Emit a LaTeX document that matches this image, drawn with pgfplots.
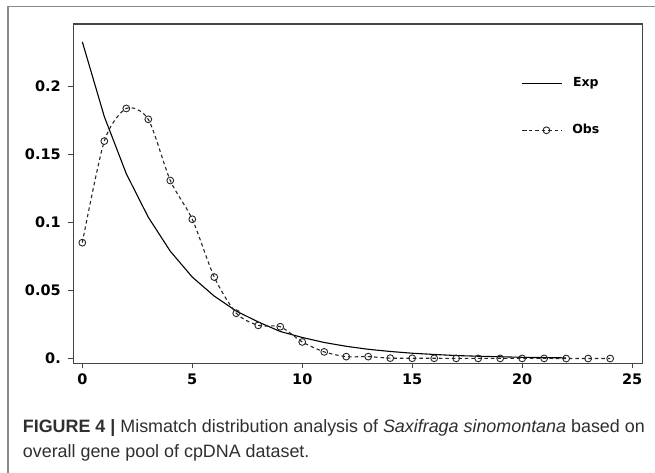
\documentclass[border=0pt]{standalone}
\usepackage{fontspec}
\setmainfont{Liberation Sans}
\newfontfamily\tickfont{DejaVu Sans}
\usepackage{pgfplots}
\pgfplotsset{compat=1.18}

\definecolor{framegray}{HTML}{8A8A8A}
\definecolor{boxgray}{HTML}{444444}
\definecolor{captext}{HTML}{2F2F2F}

\begin{document}
\begin{tikzpicture}[x=1pt,y=1pt]
  \useasboundingbox (0,0) rectangle (655,473);
  % outer figure frame (cut off on the right and bottom)
  \draw[framegray, line width=1.3pt] (8,-5) -- (8,466.3) -- (660,466.3);

  \begin{axis}[
      at={(73.3pt,109.7pt)}, anchor=south west,
      scale only axis,
      width=569.4pt, height=339.3pt,
      xmin=-0.41, xmax=25.48,
      ymin=-0.0034, ymax=0.2461,
      xtick={0,5,10,15,20,25},
      ytick={0,0.05,0.1,0.15,0.2},
      yticklabels={0.,0.05,0.1,0.15,0.2},
      xticklabels={0,5,10,15,20,25},
      tick pos=left,
      tick align=outside,
      major tick length=5pt,
      axis line style={boxgray, line width=1.3pt},
      every tick/.style={boxgray, line width=1pt},
      ticklabel style={font=\tickfont\bfseries\fontsize{14.5}{16}\selectfont, text=black},
      yticklabel style={xshift=-4pt},
      xticklabel style={yshift=-2pt},
      legend style={draw=none, fill=none, at={(0.7875,0.756)}, anchor=west,
        inner sep=0pt, row sep=35pt,
        font=\tickfont\bfseries\fontsize{12.5}{14}\selectfont,
        nodes={inner sep=0pt, text height=9pt, text depth=3pt},
        /tikz/every odd column/.append style={column sep=9.3pt}},
      legend image code/.code={%
        \draw[#1, mark repeat=2, mark phase=2] plot coordinates {(0pt,0pt) (24pt,0pt) (40pt,0pt)};},
    ]
    % expected (exponential) distribution
    \addplot[black, line width=1.1pt] coordinates {
      (0,0.233) (1,0.178) (2,0.136) (3,0.104) (4,0.079) (5,0.060)
      (6,0.046) (7,0.035) (8,0.027) (9,0.020) (10,0.0156) (11,0.0119)
      (12,0.0091) (13,0.0069) (14,0.0053) (15,0.0040) (16,0.0031)
      (17,0.0023) (18,0.0018) (19,0.0014) (20,0.0010) (21,0.0008) (22,0.0006)
    };
    \addlegendentry{Exp}

    % observed
    \addplot[black!85, line width=1.1pt, dash pattern=on 3.5pt off 3pt,
      smooth, tension=0.45,
      mark=o, mark size=3.4pt, mark options={solid, line width=0.9pt}] coordinates {
      (0,0.0853) (1,0.160) (2,0.184) (3,0.176) (4,0.131) (5,0.1025)
      (6,0.060) (7,0.0334) (8,0.0245) (9,0.0235) (10,0.0123) (11,0.0050)
      (12,0.0015) (13,0.0015) (14,0.0004) (15,0.0003) (16,0.0003)
      (17,0.0002) (18,0.0002) (19,0.0002) (20,0.0002) (21,0.0002)
      (22,0.0001) (23,0.0001) (24,0.0001)
    };
    \addlegendentry{Obs}
  \end{axis}

  % caption
  \node[anchor=base west, inner sep=0pt, text=captext] at (22.7,40.3)
    {\fontsize{17.9}{20}\selectfont\textbf{FIGURE 4 |} Mismatch distribution analysis of \textit{Saxifraga sinomontana} based on};
  \node[anchor=base west, inner sep=0pt, text=captext] at (22.7,15.7)
    {\fontsize{17.9}{20}\selectfont overall gene pool of cpDNA dataset.};
\end{tikzpicture}
\end{document}
